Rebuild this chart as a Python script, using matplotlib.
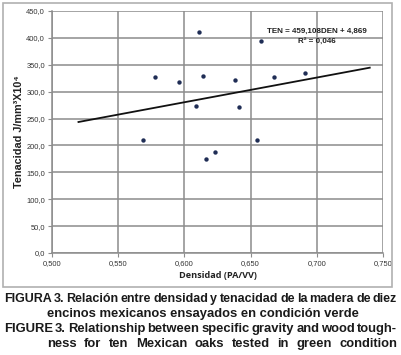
import matplotlib
matplotlib.use("Agg")
import matplotlib.pyplot as plt
from matplotlib.patches import Rectangle
import numpy as np

# Data
densidad = [0.569, 0.578, 0.596, 0.609, 0.611, 0.614, 0.616, 0.623, 0.638, 0.641, 0.655, 0.658, 0.668, 0.691]
tenacidad = [211, 327, 318, 273, 411, 329, 174, 187, 321, 272, 210, 394, 327, 335]
slope = 459.108
intercept = 4.869
r2 = 0.046
trend_x = [0.52, 0.74]
xticks = [0.500, 0.550, 0.600, 0.650, 0.700, 0.750]
yticks = [0, 50, 100, 150, 200, 250, 300, 350, 400, 450]

caption_lines = [
    "FIGURA 3. Relación entre densidad y tenacidad de la madera de diez",
    "encinos mexicanos ensayados en condición verde",
    "FIGURE 3. Relationship between specific gravity and wood tough-",
    "ness for ten Mexican oaks tested in green condition",
]

W, H = 401, 355
fig = plt.figure(figsize=(W / 100, H / 100), dpi=100)
fig.patch.set_facecolor("white")

# Outer chart frame
fig.patches.append(Rectangle((3 / W, 1 - 287 / H), 389 / W, 284 / H, transform=fig.transFigure,
                             fill=False, edgecolor="#b0b0b0", linewidth=1.2))

ax = fig.add_axes([52 / W, 1 - 253 / H, 331 / W, 242 / H])
ax.set_xlim(0.5, 0.75)
ax.set_ylim(0, 450)
ax.set_xticks(xticks)
ax.set_yticks(yticks)
ax.set_xticklabels([f"{v:.3f}".replace(".", ",") for v in xticks])
ax.set_yticklabels([f"{v:.1f}".replace(".", ",") for v in yticks])
ax.grid(True, color="#8c8c8c", linewidth=1.1)
ax.set_axisbelow(True)
for s in ["top", "right"]:
    ax.spines[s].set_visible(False)
for s in ["left", "bottom"]:
    ax.spines[s].set_color("#8c8c8c")
    ax.spines[s].set_linewidth(1.1)
ax.tick_params(axis="both", length=3, color="#8c8c8c", labelsize=5.4, labelcolor="#333333", pad=2)
for lab in ax.get_xticklabels() + ax.get_yticklabels():
    lab.set_family("Liberation Sans")

ax.scatter(densidad, tenacidad, s=10, color="#1f2d55", zorder=3, linewidths=0)
tx = np.array(trend_x)
ax.plot(tx, slope * tx + intercept, color="#111111", linewidth=1.3, zorder=2)

eq = "TEN = " + f"{slope:.3f}".replace(".", ",") + "DEN + " + f"{intercept:.3f}".replace(".", ",")
ax.text(0.7, 412, eq, ha="center", va="center", fontsize=5.8, fontweight="bold",
        family="Liberation Sans", color="#222222")
ax.text(0.7, 393, f"R² = {r2:.3f}".replace(".", ","), ha="center", va="center", fontsize=5.8,
        fontweight="bold", family="Liberation Sans", color="#222222")

ax.set_xlabel("Densidad (PA/VV)", fontsize=6.6, fontweight="bold", family="Open Sans", color="#222222", labelpad=3)
ax.set_ylabel("Tenacidad J/mm³X10⁴", fontsize=7.8, fontweight="bold", family=["Liberation Sans", "DejaVu Sans"],
              color="#222222", labelpad=2)

# Caption with justification (None = natural spacing)
fig.canvas.draw()
renderer = fig.canvas.get_renderer()
props = dict(fontweight="bold", family="Liberation Sans", color="#1a1a1a", va="baseline")
line_specs = [(4, 397, 9.0), (47, None, 9.4), (4, 397, 9.4), (47, 397, 9.4)]
baselines = [302, 317, 332, 347]
for text, (x0, x1, fs), yb in zip(caption_lines, line_specs, baselines):
    yf = 1 - yb / H
    if x1 is None:
        fig.text(x0 / W, yf, text, ha="left", fontsize=fs, **props)
        continue
    words = text.split(" ")
    objs = [fig.text(0, yf, w, ha="left", fontsize=fs, **props) for w in words]
    widths = [o.get_window_extent(renderer).width for o in objs]
    gap = (x1 - x0 - sum(widths)) / (len(words) - 1)
    x = x0
    for o, w in zip(objs, widths):
        o.set_x(x / W)
        x += w + gap

fig.savefig("out.png", dpi=100, facecolor="white")
